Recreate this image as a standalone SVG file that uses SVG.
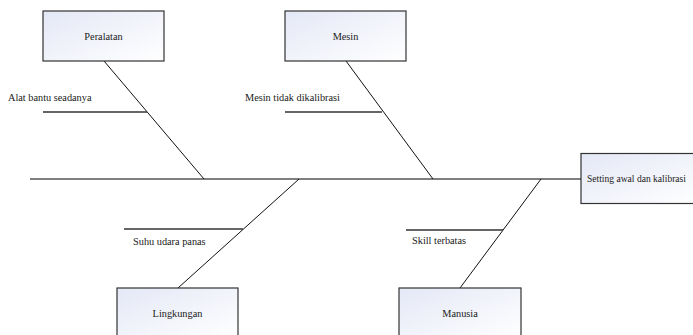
<svg xmlns="http://www.w3.org/2000/svg" width="693" height="335" viewBox="0 0 693 335">
  <defs>
    <linearGradient id="boxfill" x1="0" y1="0" x2="1" y2="1">
      <stop offset="0" stop-color="#e4e8f6"/>
      <stop offset="1" stop-color="#ffffff"/>
    </linearGradient>
    <style>
      .box { fill: url(#boxfill); stroke: #333333; stroke-width: 1.2; }
      .lbl { font-family: "Liberation Serif", "Times New Roman", serif; font-size: 10.3px; fill: #1a1a1a; }
      .mid { text-anchor: middle; }
      .spine { stroke: #555555; stroke-width: 1.6; fill: none; }
      .bone { stroke: #111111; stroke-width: 1; fill: none; }
      .sub { stroke: #333333; stroke-width: 1.4; fill: none; }
    </style>
  </defs>
  <rect width="693" height="335" fill="#ffffff"/>

  <g id="connectors">
    <line class="spine" x1="30" y1="179" x2="581" y2="179"/>
    <line class="bone" x1="104" y1="61" x2="204" y2="179"/>
    <line class="bone" x1="346" y1="61" x2="433" y2="179"/>
    <line class="bone" x1="299" y1="179" x2="178" y2="288"/>
    <line class="bone" x1="541" y1="179" x2="460" y2="288"/>
    <line class="sub" x1="43" y1="112" x2="147" y2="112"/>
    <line class="sub" x1="285" y1="112" x2="382" y2="112"/>
    <line class="sub" x1="124" y1="229" x2="243" y2="229"/>
    <line class="sub" x1="406" y1="230" x2="503" y2="230"/>
  </g>

  <g id="peralatan">
    <rect class="box" x="43" y="11" width="121" height="50"/>
    <text class="lbl mid" x="103.5" y="39.5">Peralatan</text>
  </g>
  <g id="mesin">
    <rect class="box" x="285" y="11" width="121" height="50"/>
    <text class="lbl mid" x="345.5" y="39.5">Mesin</text>
  </g>
  <g id="setting">
    <rect class="box" x="581" y="153.5" width="121" height="50"/>
    <text class="lbl" x="587" y="182" textLength="99" lengthAdjust="spacingAndGlyphs">Setting awal dan kalibrasi</text>
  </g>
  <g id="lingkungan">
    <rect class="box" x="117" y="288" width="121" height="50"/>
    <text class="lbl mid" x="177.5" y="317">Lingkungan</text>
  </g>
  <g id="manusia">
    <rect class="box" x="399" y="288" width="122" height="50"/>
    <text class="lbl mid" x="460" y="317">Manusia</text>
  </g>

  <g id="cause-alat">
    <text class="lbl" x="8" y="101">Alat bantu seadanya</text>
  </g>
  <g id="cause-mesin">
    <text class="lbl" x="245" y="101">Mesin tidak dikalibrasi</text>
  </g>
  <g id="cause-suhu">
    <text class="lbl" x="133" y="245">Suhu udara panas</text>
  </g>
  <g id="cause-skill">
    <text class="lbl" x="412" y="244">Skill terbatas</text>
  </g>
</svg>
